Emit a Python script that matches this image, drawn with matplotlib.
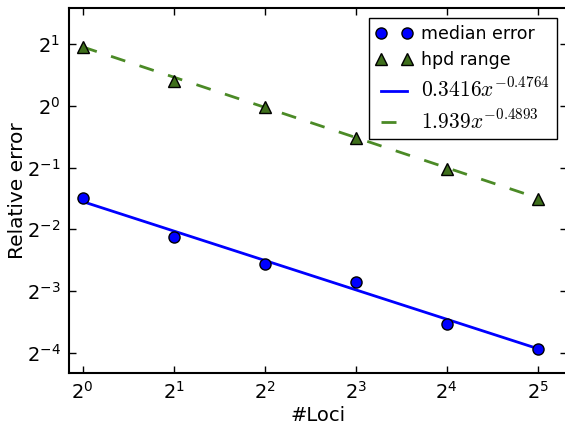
import numpy as np
import matplotlib
matplotlib.use("Agg")
from matplotlib import pyplot as plt
from matplotlib.ticker import LogLocator, FuncFormatter

plt.rcParams["mathtext.fontset"] = "cm"
plt.rcParams["font.family"] = "DejaVu Sans"

loci = [1, 2, 4, 8, 16, 32]
median_error = [2 ** -1.495, 2 ** -2.13, 2 ** -2.565, 2 ** -2.845, 2 ** -3.53, 2 ** -3.93]
hpd_range = [2 ** 0.947, 2 ** 0.41, 2 ** -0.02, 2 ** -0.525, 2 ** -1.03, 2 ** -1.51]

# power-law fits a * x**b
median_fit = (0.3416, -0.4764)
hpd_fit = (1.939, -0.4893)

blue = "#0000ff"
green = "#4b8a26"
green_dark = "#3f6f1c"

fig = plt.figure(figsize=(5.65, 4.29), dpi=100)
ax = fig.add_axes([0.1216, 0.1312, 0.8819, 0.8502])

xs = np.array(loci, dtype=float)
ax.plot(xs, median_error, "o", color=blue, mec="black", mew=1, ms=8,
        label="median error", zorder=3)
ax.plot(xs, hpd_range, "^", color=green_dark, mec="black", mew=1, ms=8,
        label="hpd range", zorder=3)
ax.plot(xs, median_fit[0] * xs ** median_fit[1], "-", color=blue, lw=2,
        label=r"$%.4fx^{%.4f}$" % median_fit)
ax.plot(xs, hpd_fit[0] * xs ** hpd_fit[1], "--", color=green, lw=2,
        dashes=(5.4, 5.4),
        label=r"$%.3fx^{%.4f}$" % hpd_fit)

ax.set_xscale("log", base=2)
ax.set_yscale("log", base=2)
ax.set_xlim(0.9, 40)
ax.set_ylim(0.05, 3.0)

fmt = FuncFormatter(lambda v, p: r"$\mathdefault{2^{%d}}$" % round(np.log2(v)))
for axis in (ax.xaxis, ax.yaxis):
    axis.set_major_locator(LogLocator(base=2, numticks=20))
    axis.set_major_formatter(fmt)
    axis.set_minor_locator(plt.NullLocator())

ax.tick_params(direction="in", length=5, width=1, labelsize=14,
               top=True, right=True, pad=6)
for s in ax.spines.values():
    s.set_linewidth(1.5)

ax.set_xlabel("#Loci", fontsize=14, labelpad=2)
ax.set_ylabel("Relative error", fontsize=14.5, labelpad=0)

leg = ax.legend(loc="upper right", numpoints=2, fontsize=12.5,
                fancybox=False, framealpha=1, edgecolor="black",
                borderaxespad=0.6, handlelength=2.1, handletextpad=0.5,
                labelspacing=0.45)
leg.get_frame().set_linewidth(1)
for t in leg.get_texts()[2:]:
    t.set_fontsize(15.5)

fig.savefig("out.png", dpi=100)
